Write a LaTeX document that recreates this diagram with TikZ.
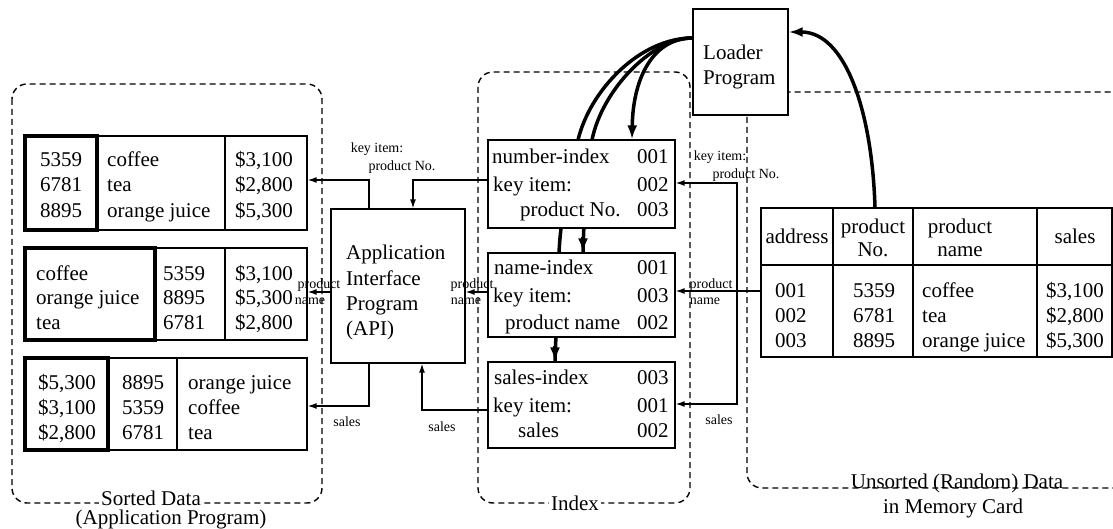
\documentclass[tikz,border=0pt]{standalone}
\usepackage{fontspec}
\setmainfont{Liberation Serif}
\usetikzlibrary{arrows.meta,calc}
\pgfdeclarelayer{background}
\pgfsetlayers{background,main}
\begin{document}
\begin{tikzpicture}[x=1pt,y=-1pt,
  font=\fontsize{21}{25}\selectfont,
  box/.style={draw,line width=1.3pt,fill=white,inner sep=0pt},
  thickbox/.style={draw,line width=3.5pt,inner sep=0pt},
  divider/.style={line width=1.3pt},
  region/.style={draw,dash pattern=on 6pt off 4pt,line width=1.4pt,rounded corners=15pt},
  arr/.style={-{Latex[length=9pt,width=6pt]},line width=1.3pt},
  bigarr/.style={-{Latex[length=14pt,width=10pt]},line width=3.5pt},
  heavy/.style={line width=3.5pt},
  txt/.style={inner sep=0pt,anchor=base west},
  ctxt/.style={inner sep=0pt,anchor=base},
  rtxt/.style={inner sep=0pt,anchor=base east},
  lbl/.style={font=\fontsize{14}{15}\selectfont,inner sep=0pt,anchor=base},
  rlabel/.style={inner sep=2pt,anchor=base,fill=white}
]
\useasboundingbox (0,0) rectangle (1113,529);
\clip (0,0) rectangle (1113,529);

% ---------- boxes ----------
\node[box,minimum width=282pt,minimum height=94pt] (t1) at (166,183) {};
\node[thickbox,minimum width=72pt,minimum height=94pt] (t1k) at (61,183) {};
\draw[divider] (225,136) -- (225,230);
\node[box,minimum width=282pt,minimum height=92pt] (t2) at (166,294) {};
\node[thickbox,minimum width=130pt,minimum height=92pt] (t2k) at (90,294) {};
\draw[divider] (225,248) -- (225,340);
\node[box,minimum width=282pt,minimum height=92pt] (t3) at (166,404) {};
\node[thickbox,minimum width=83pt,minimum height=92pt] (t3k) at (66.5,404) {};
\draw[divider] (177,358) -- (177,450);

\node[box,minimum width=134pt,minimum height=154pt] (api) at (398,286) {};
\node[box,minimum width=187pt,minimum height=88pt] (ni) at (581.5,184) {};
\node[box,minimum width=187pt,minimum height=84pt] (nm) at (581.5,295) {};
\node[box,minimum width=187pt,minimum height=86pt] (si) at (581.5,405) {};
\node[box,minimum width=95pt,minimum height=106pt] (loader) at (740.5,62) {};
\node[box,minimum width=351pt,minimum height=149pt] (mt) at (936.5,282.5) {};
\draw[divider] (761,265) -- (1112,265);
\draw[divider] (833,208) -- (833,357);
\draw[divider] (913,208) -- (913,357);
\draw[divider] (1037,208) -- (1037,357);

% ---------- regions (background) ----------
\begin{pgfonlayer}{background}
\draw[region] (12,84) rectangle (322,503);
\draw[region] (478,72) rectangle (690,503);
\draw[region] (747,92) rectangle (1135,488);
% loader curves passing behind the index boxes
\draw[heavy] ([yshift=24pt]loader.west) .. controls (640,38) and (590,90) .. (578,140)
   .. controls (570,180) and (561,210) .. (559,253) -- ([xshift=-26.5pt]si.north);
\draw[heavy] ([yshift=24pt]loader.west) .. controls (652,38) and (602,90) .. (592,140)
   .. controls (586,180) and (584,215) .. ([xshift=1.5pt]nm.north);
\end{pgfonlayer}
\draw[bigarr] ([xshift=-26.5pt,yshift=1pt]si.north) ++(0,-14) -- ([xshift=-26.5pt]si.north);
\draw[bigarr] ([xshift=1.5pt,yshift=1pt]nm.north) ++(0,-14) -- ([xshift=1.5pt]nm.north);
\draw[bigarr] ([yshift=24pt]loader.west) .. controls (655,38) and (633,75) .. ([xshift=50.5pt]ni.north);
\draw[bigarr] ([xshift=-61.5pt]mt.north) .. controls (872,110) and (845,32) .. ([yshift=30pt]loader.east);

% ---------- table 1 ----------
\node[txt] (a11) at (40,167) {5359};
\node[txt] (a12) at (40,192) {6781};
\node[txt] (a13) at (40,218) {8895};
\node[txt] (b11) at (107,167) {coffee};
\node[txt] (b12) at (107,192) {tea};
\node[txt] (b13) at (107,218) {orange juice};
\node[txt] (c11) at (235,167) {\$3,100};
\node[txt] (c12) at (235,192) {\$2,800};
\node[txt] (c13) at (235,218) {\$5,300};
% ---------- table 2 ----------
\node[txt] (a21) at (36,280) {coffee};
\node[txt] (a22) at (36,304) {orange juice};
\node[txt] (a23) at (36,329) {tea};
\node[txt] (b21) at (163,280) {5359};
\node[txt] (b22) at (163,304) {8895};
\node[txt] (b23) at (163,329) {6781};
\node[txt] (c21) at (235,280) {\$3,100};
\node[txt] (c22) at (235,304) {\$5,300};
\node[txt] (c23) at (235,329) {\$2,800};
% ---------- table 3 ----------
\node[txt] (a31) at (38,389) {\$5,300};
\node[txt] (a32) at (38,414) {\$3,100};
\node[txt] (a33) at (38,439) {\$2,800};
\node[txt] (b31) at (122,389) {8895};
\node[txt] (b32) at (122,414) {5359};
\node[txt] (b33) at (122,439) {6781};
\node[txt] (c31) at (188,389) {orange juice};
\node[txt] (c32) at (188,414) {coffee};
\node[txt] (c33) at (188,439) {tea};

% ---------- API ----------
\node[txt] (api1) at (346,260) {Application};
\node[txt] (api2) at (346,285) {Interface};
\node[txt] (api3) at (346,310) {Program};
\node[txt] (api4) at (346,335) {(API)};

% ---------- indexes ----------
\node[txt] (n1) at (492,164) {number-index};
\node[txt] (n2) at (493,192) {key item:};
\node[txt] (n3) at (520,217) {product No.};
\node[txt] (n4) at (637,164) {001};
\node[txt] (n5) at (637,192) {002};
\node[txt] (n6) at (637,217) {003};
\node[txt] (m1) at (494,275) {name-index};
\node[txt] (m2) at (493,302) {key item:};
\node[txt] (m3) at (505,329) {product name};
\node[txt] (m4) at (637,275) {001};
\node[txt] (m5) at (637,302) {003};
\node[txt] (m6) at (637,329) {002};
\node[txt] (s1) at (494,384) {sales-index};
\node[txt] (s2) at (493,412) {key item:};
\node[txt] (s3) at (518,437) {sales};
\node[txt] (s4) at (637,384) {003};
\node[txt] (s5) at (637,412) {001};
\node[txt] (s6) at (637,437) {002};

% ---------- loader ----------
\node[txt] (ld1) at (703,60) {Loader};
\node[txt] (ld2) at (703,85) {Program};

% ---------- memory table ----------
\node[ctxt] (h1) at (797,244) {address};
\node[ctxt] (h2) at (873,234) {product};
\node[ctxt] (h3) at (873,257) {No.};
\node[ctxt] (h4) at (960,234) {product};
\node[ctxt] (h5) at (960,257) {name};
\node[ctxt] (h6) at (1075,244) {sales};
\node[txt] (r11) at (775,297) {001};
\node[txt] (r12) at (775,322) {002};
\node[txt] (r13) at (775,347) {003};
\node[ctxt] (r21) at (874,297) {5359};
\node[ctxt] (r22) at (874,322) {6781};
\node[ctxt] (r23) at (874,347) {8895};
\node[txt] (r31) at (922,297) {coffee};
\node[txt] (r32) at (922,322) {tea};
\node[txt] (r33) at (922,347) {orange juice};
\node[rtxt] (r41) at (1104,297) {\$3,100};
\node[rtxt] (r42) at (1104,322) {\$2,800};
\node[rtxt] (r43) at (1104,347) {\$5,300};

% ---------- region labels ----------
\node[rlabel] (lsd) at (151,505) {Sorted Data};
\node[ctxt] (lap) at (171,524) {(Application Program)};
\node[rlabel] (lix) at (575,510) {Index};
\node[ctxt] (lun) at (957,488) {Unsorted (Random) Data};
\node[rlabel] (lmc) at (953,513) {in Memory Card};

% ---------- connectors ----------
\draw[arr] ([xshift=-29pt]api.north) |- ([yshift=3pt]t1.east);
\draw[arr] ([yshift=4pt]ni.west) -| ([xshift=15pt]api.north);
\draw[arr] ([yshift=-6pt]api.west) -- ([yshift=-6pt]api.west -| t2.east);
\draw[arr] ([yshift=3pt]nm.west) -- ([yshift=3pt]nm.west -| api.east);
\draw[arr] ([xshift=-29pt]api.south) |- ([yshift=-2pt]t3.east);
\draw[arr] ([yshift=-5pt]si.west) -| ([xshift=24pt]api.south);
\coordinate (br) at (737,291);
\draw[arr] ([yshift=-8.5pt]mt.west) -- ([yshift=-8.5pt]mt.west -| nm.east);
\draw[arr] (br) |- ([yshift=1pt]ni.east);
\draw[arr] (br) |- ([yshift=1pt]si.east);

% ---------- small labels ----------
\node[lbl] (k1) at (377,153) {key item:};
\node[lbl] (k2) at (402,171) {product No.};
\node[lbl] (k3) at (319,288) {product};
\node[lbl] (k4) at (310,305) {name};
\node[lbl] (k5) at (472,288) {product};
\node[lbl] (k6) at (466,305) {name};
\node[lbl] (k7) at (347,426) {sales};
\node[lbl] (k8) at (442,431) {sales};
\node[lbl] (k9) at (720,161) {key item:};
\node[lbl] (k10) at (746,179) {product No.};
\node[lbl] (k11) at (711,288) {product};
\node[lbl] (k12) at (705,305) {name};
\node[lbl] (k13) at (719,424) {sales};
\end{tikzpicture}
\end{document}
